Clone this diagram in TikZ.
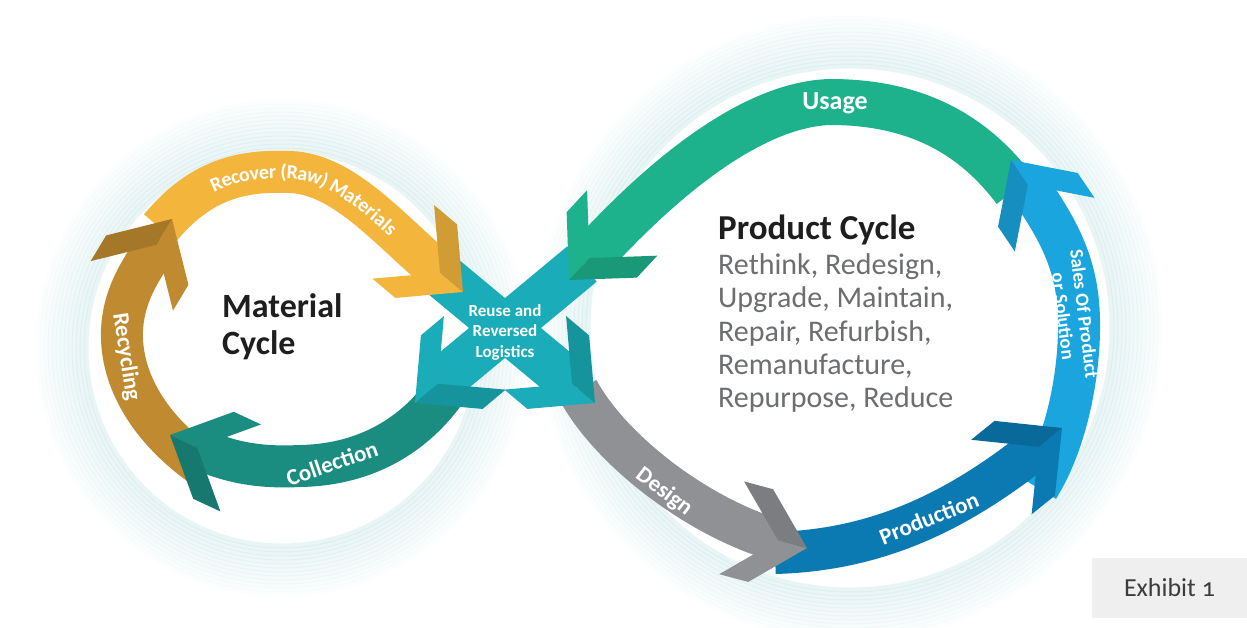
\documentclass[tikz,border=0pt]{standalone}
\usepackage{fontspec}
\setmainfont{Carlito}
\newfontfamily\exhibitfont[Numbers=OldStyle]{Carlito}
\usetikzlibrary{positioning}
\usetikzlibrary{decorations.text}
\definecolor{recyclecol}{HTML}{BF8A30}
\definecolor{recovercol}{HTML}{F3B53C}
\definecolor{collectcol}{HTML}{1A8C80}
\definecolor{reusecol}{HTML}{1AACB8}
\definecolor{usagecol}{HTML}{1EB28C}
\definecolor{salescol}{HTML}{1BA5DF}
\definecolor{productioncol}{HTML}{0B7AB3}
\definecolor{designcol}{HTML}{909195}
\definecolor{glowcol}{HTML}{BFE2E4}
\definecolor{headcol}{HTML}{1E1E1E}
\definecolor{listcol}{HTML}{6D6E70}
\definecolor{exhibitbg}{HTML}{EFEFEF}
\definecolor{exhibitcol}{HTML}{3C3C3C}
\newcommand{\bandhead}[4]{%
  \begin{scope}[shift={(#1,#2)},rotate=#3]
    \fill[#4] (0,0) -- (-48,48) -- (-78,48) -- (-30,0) -- cycle;
    \fill[#4!86!black] (0,0) -- (-30,0) -- (-78,-48) -- (-48,-48) -- cycle;
  \end{scope}}
\newcommand{\recoverfont}{\bfseries\fontsize{20}{20}\selectfont}

\begin{document}
\begin{tikzpicture}[x=1pt, y=-1pt]
\tikzstyle{band}=[line width=42pt]
\tikzstyle{cross}=[line width=46pt, draw=reusecol]
\tikzstyle{glow}=[draw=glowcol, line width=5pt]
\tikzstyle{bandlabel}=[text=white, font=\bfseries\fontsize{23}{23}\selectfont, inner sep=0pt]
\tikzstyle{heading}=[anchor=base west, text=headcol, font=\bfseries\fontsize{34}{34}\selectfont, inner sep=0pt]
\tikzstyle{listline}=[anchor=base west, text=listcol, font=\fontsize{30}{30}\selectfont, inner sep=0pt]
\tikzstyle{exhibitbox}=[fill=exhibitbg, text=exhibitcol, minimum width=155pt, minimum height=60pt,
                        font=\exhibitfont\fontsize{26}{26}\selectfont]

\useasboundingbox (0,0) rectangle (1247,628);
\fill[white] (0,0) rectangle (1247,628);

% soft rings behind the two loops
\foreach \d [evaluate=\d as \op using 0.34-0.0062*\d] in {0,4,...,48}{
  \draw[glow, opacity=\op] (282,348) ellipse [x radius=196+\d, y radius=198+\d];
  \draw[glow, opacity=\op] (850,328) ellipse [x radius=262+\d, y radius=262+\d];
}

% bands
\draw[band, usagecol, line width=46pt] (1015,190) .. controls (970,130) and (910,102) .. (830,102)
                      .. controls (730,105) and (620,225) .. (586,262);
\draw[band, salescol] (1038,488) .. controls (1068,440) and (1080,370) .. (1079,320)
                      .. controls (1078,260) and (1055,225) .. (1025,181);
\draw[band, productioncol] (775,553) .. controls (880,550) and (960,510) .. (1042,444);
\draw[band, designcol] (578,390) .. controls (610,450) and (700,520) .. (783,542);
\draw[cross] (428,264) -- (576,387);
\draw[band, recovercol] (160,228) .. controls (200,180) and (240,170) .. (290,172)
                        .. controls (345,174) and (390,231) .. (444,276);
\draw[band, recyclecol] (205,468) .. controls (150,430) and (120,380) .. (122,330)
                        .. controls (124,290) and (145,265) .. (160,240);
\draw[band, collectcol] (445,392) .. controls (410,440) and (360,465) .. (300,466)
                        .. controls (260,468) and (229,463) .. (193,446);
\draw[cross] (582,264) -- (434,387);

% arrow heads
\bandhead{172}{219}{59}{recyclecol}
\bandhead{463}{292}{-40}{recovercol}
\bandhead{170}{435}{155}{collectcol}
\bandhead{415}{403}{220}{reusecol}
\bandhead{595}{403}{-40}{reusecol}
\bandhead{569}{280}{227}{usagecol}
\bandhead{1011}{160}{124}{salescol}
\bandhead{1062}{428}{39}{productioncol}
\bandhead{807}{548}{-15}{designcol}

% labels on the bands
\path[decorate, decoration={text along path, text color=white, text align=center, raise=-7pt,
      text={|\recoverfont|Recover (Raw) Materials}}]
      (160,228) .. controls (200,180) and (240,170) .. (290,172)
      .. controls (345,174) and (390,231) .. (444,276);
\node[bandlabel, rotate=-81] (recycling) at (126,357) {Recycling};
\node[bandlabel, rotate=19] (collection) at (332,463) {Collection};
\node[bandlabel, font=\bfseries\fontsize{26}{26}\selectfont] (usage) at (835,103) {Usage};
\node[bandlabel, rotate=-83, align=center, font=\bfseries\fontsize{19}{21}\selectfont] (sales) at (1074,315) {Sales Of Product\\or Solution};
\node[bandlabel, rotate=-37] (design) at (664,492) {Design};
\node[bandlabel, rotate=22] (production) at (929,518) {Production};
\node[bandlabel, align=center, font=\bfseries\fontsize{17}{20.5}\selectfont] (reuse) at (505,332) {Reuse and\\Reversed\\Logistics};

% cycle texts
\node[heading] (material) at (222,317) {Material};
\node[heading] (matcycle) at (222,354) {Cycle};
\node[heading, font=\bfseries\fontsize{35}{35}\selectfont] (product) at (718,240) {Product Cycle};
\foreach \txt [count=\i] in {{Rethink, Redesign,},{Upgrade, Maintain,},{Repair, Refurbish,},{Remanufacture,},{Repurpose, Reduce}}
  \node[listline] (list\i) at (718,{242+33*\i}) {\txt};

\node[exhibitbox] (exhibit) at (1169.5,588) {Exhibit 1};

\end{tikzpicture}
\end{document}
